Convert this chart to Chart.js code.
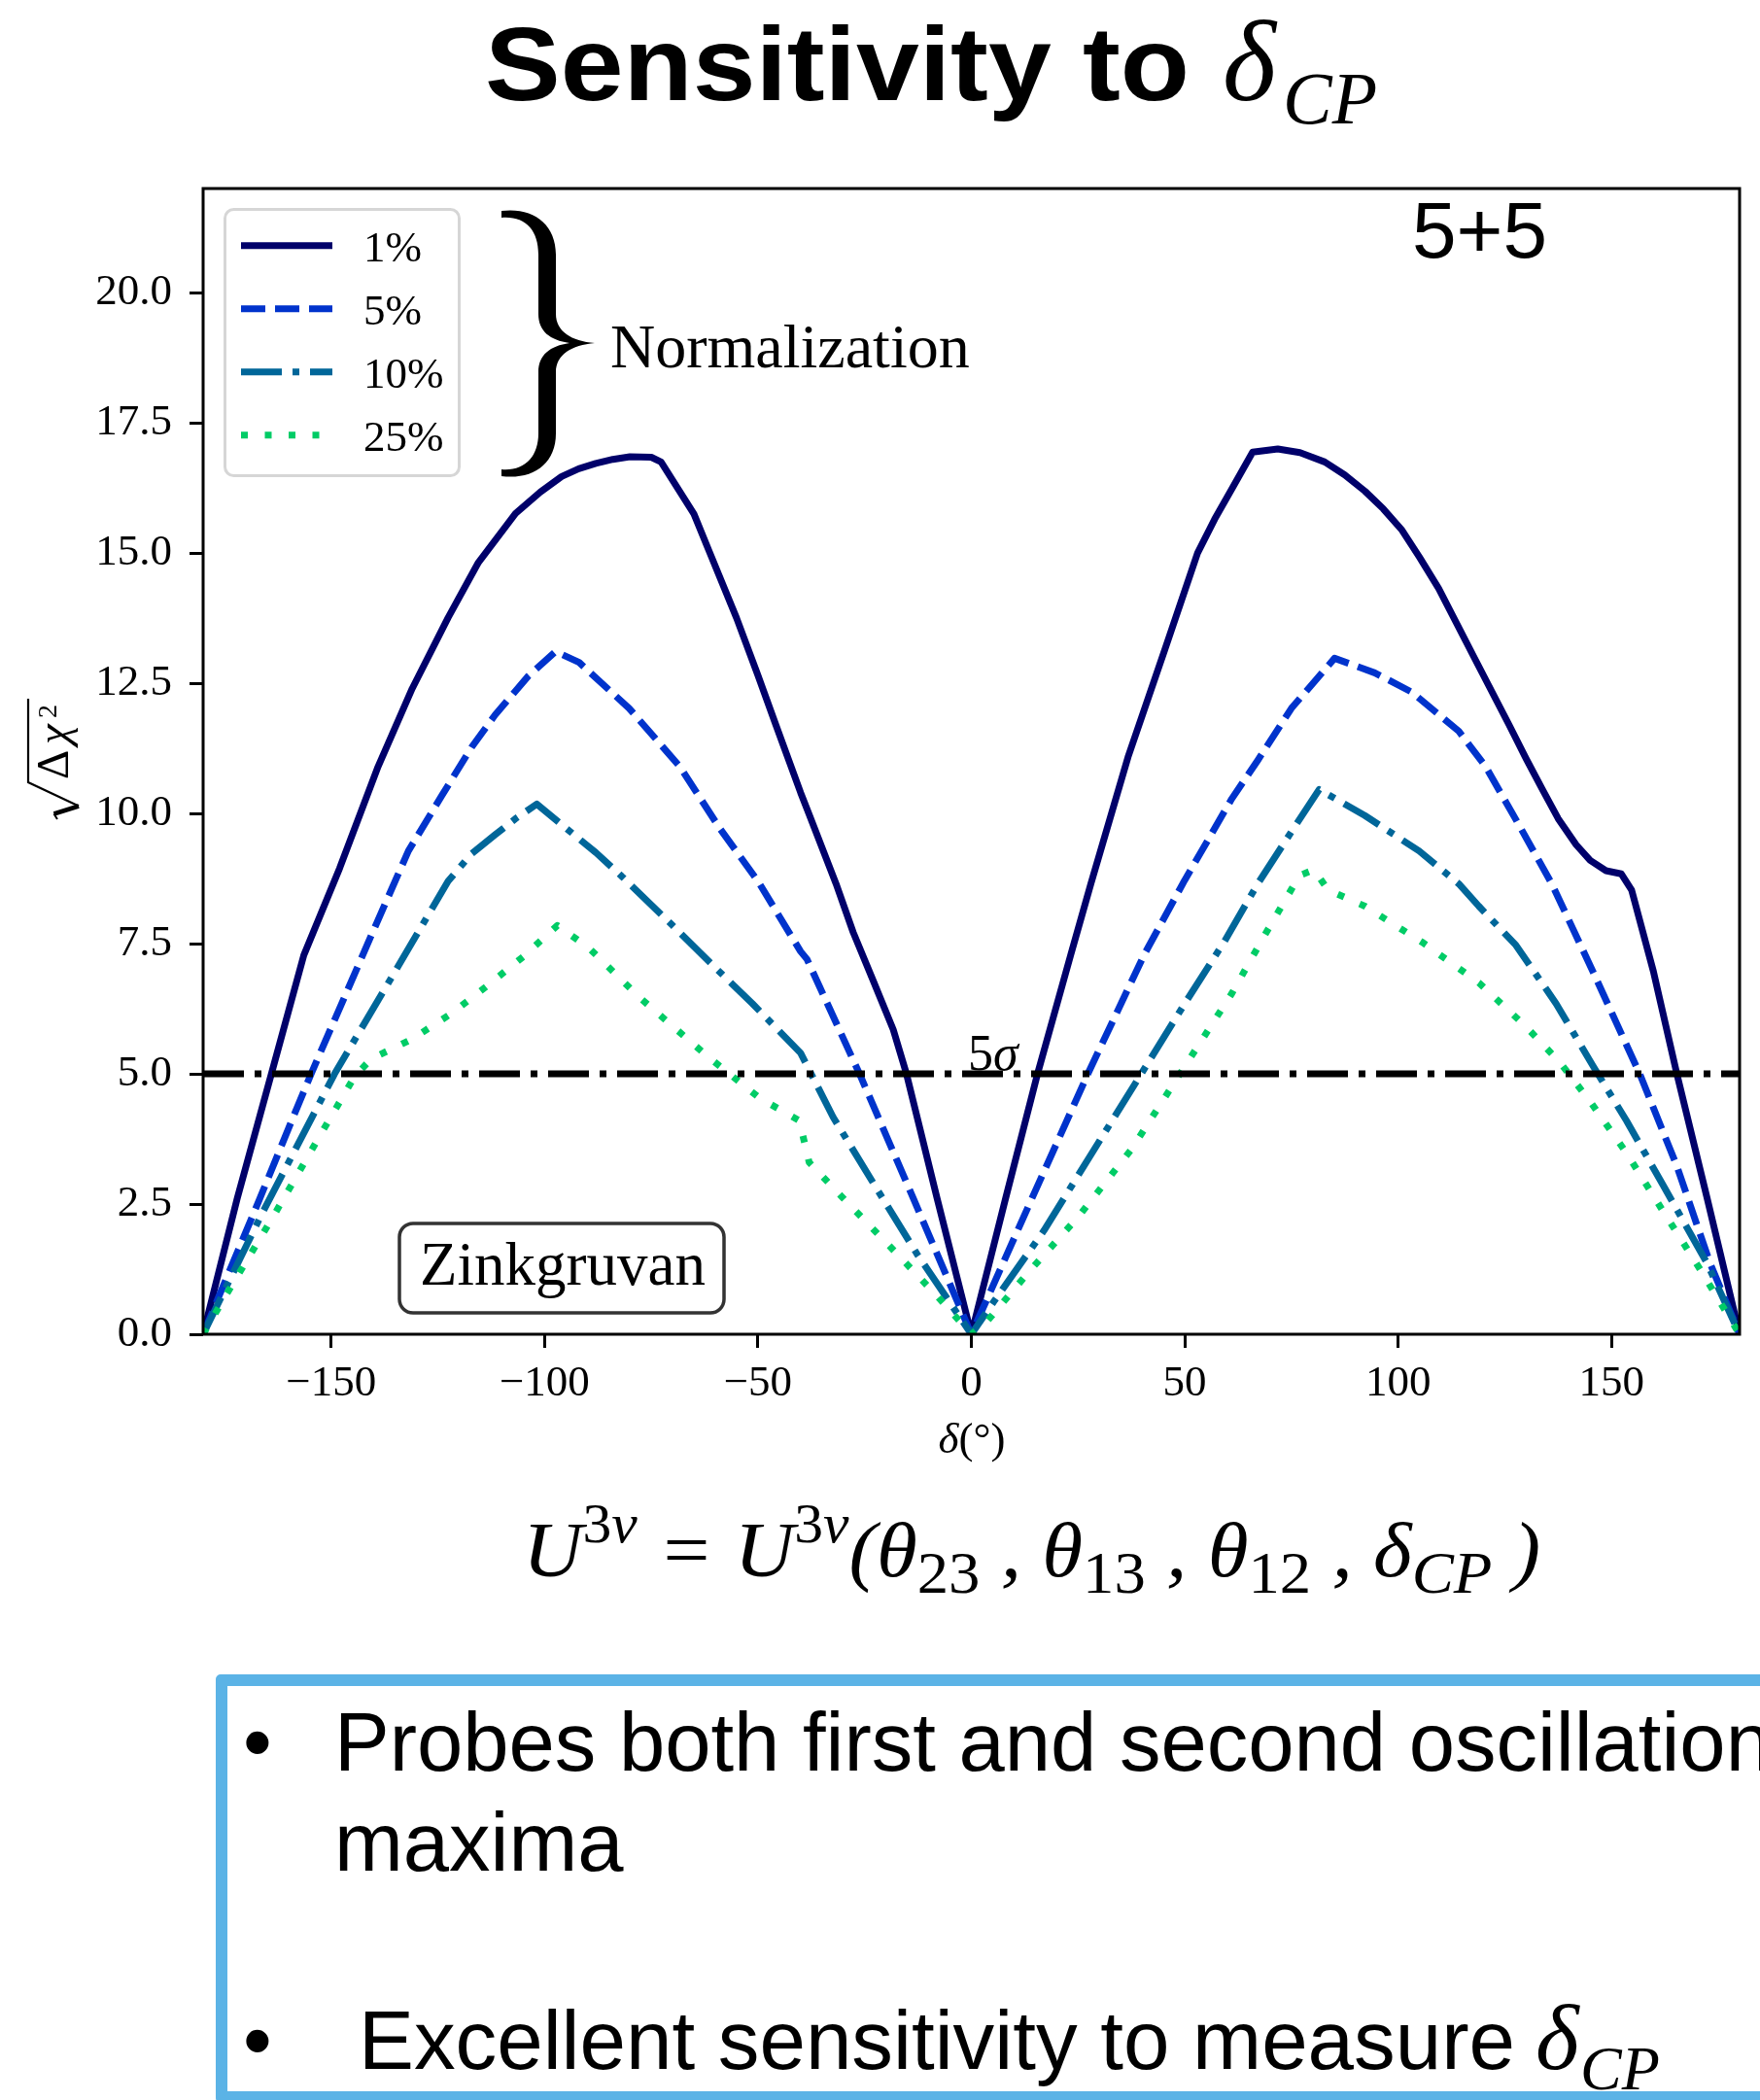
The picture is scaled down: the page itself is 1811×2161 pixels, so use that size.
<!DOCTYPE html>
<html><head><meta charset="utf-8">
<script src="https://cdn.jsdelivr.net/npm/chart.js@4.4.1/dist/chart.umd.min.js"></script>
<style>
html,body{margin:0;padding:0;background:#fff;}
body{width:1811px;height:2161px;overflow:hidden;position:relative;}
#wrap{position:absolute;left:0;top:0;width:1811px;height:1560px;}
.t{position:absolute;white-space:nowrap;color:#000;line-height:1;transform-origin:0 0;}
.sans{font-family:"Liberation Sans",Arial,sans-serif;}
.serif{font-family:"Liberation Serif","Times New Roman",serif;}
.sup{font-size:0.7em;vertical-align:0.62em;}
.sub{font-size:0.76em;vertical-align:-0.28em;}
.up{font-style:normal;}
#box{position:absolute;left:222px;top:1723px;width:1700px;height:441px;border:12px solid #5bb3e6;box-sizing:border-box;border-radius:5px;}
</style></head><body>
<div id="wrap"><canvas id="c" width="1811" height="1560"></canvas></div>
<div id="title1" class="t sans" style="font-weight:bold;font-size:108px">Sensitivity to</div>
<div id="title2" class="t serif" style="font-style:italic;font-size:118px">δ</div>
<div id="title3" class="t serif" style="font-style:italic;font-size:76px">CP</div>
<div id="fivefive" class="t sans" style="font-size:82px">5+5</div>
<div id="formula" class="t serif" style="font-size:80px;font-style:italic">U<span class="sup"><span class="up">3</span>ν</span> = U<span class="sup"><span class="up">3</span>ν</span>(θ<span class="sub up">23</span> , θ<span class="sub up">13</span> , θ<span class="sub up">12</span> , δ<span class="sub">CP</span> )</div>
<div id="box"></div>
<div id="b1" class="t sans" style="font-size:85px">•</div>
<div id="l1" class="t sans" style="font-size:85px">Probes both first and second oscillation</div>
<div id="l2" class="t sans" style="font-size:85px">maxima</div>
<div id="b2" class="t sans" style="font-size:85px">•</div>
<div id="l3" class="t sans" style="font-size:85px">Excellent sensitivity to measure</div>
<div id="l3d" class="t serif" style="font-style:italic;font-size:96px">δ</div>
<div id="l3s" class="t serif" style="font-style:italic;font-size:64px">CP</div>
<script>
// ---- data ----
const seriesLabels = ['1%', '5%', '10%', '25%'];
const xTicks = [-150, -100, -50, 0, 50, 100, 150];
const yTicks = [0, 2.5, 5, 7.5, 10, 12.5, 15, 17.5, 20];

const delta1 = [-180,-172,-164,-156.4,-148,-139,-131,-122.6,-115.5,-106.8,-101,-96,-92,-88,-84,-80,-75,-72.7,-65,-61.5,-55,-50,-45.8,-40,-37.9,-31.7,-27.7,-23,-18.3,-15.2,-8,0,8,15.5,23.3,28,36.7,45.3,53,57,61.5,65.9,71.8,77,82.8,87.5,92.2,96.5,100.9,105,109.5,118.1,126,130,133.8,137.5,141.7,145,148.7,152.3,154.7,159.8,165.3,172.4,180];
const chi1 = [0,2.61,5.0,7.28,8.95,10.9,12.4,13.76,14.82,15.76,16.17,16.47,16.62,16.72,16.8,16.85,16.84,16.75,15.75,15.05,13.75,12.65,11.7,10.4,9.96,8.65,7.72,6.79,5.85,5.0,2.6,0,2.6,5.0,7.29,8.65,11.08,13.14,15.0,15.65,16.3,16.94,17.0,16.93,16.75,16.5,16.19,15.85,15.44,14.92,14.32,12.95,11.7,11.05,10.46,9.9,9.4,9.1,8.9,8.84,8.53,6.97,5.0,2.61,0];

const delta5 = [-180,-174,-167,-160,-154.7,-147,-140,-131.9,-124.1,-117.1,-111.6,-103.8,-97.4,-91.9,-80.2,-68.3,-59,-50,-40,-38.5,-26.2,-13.6,0,13.6,27.3,40.5,50,61,67.1,75,85.1,94.5,103.2,114.2,120.5,128.3,136,145.6,156.6,165.3,173.1,180];
const chi5 = [0,1.18,2.55,3.95,5.0,6.45,7.77,9.28,10.34,11.27,11.89,12.64,13.11,12.9,12.02,10.9,9.72,8.7,7.35,7.2,5.0,2.61,0,2.5,5.0,7.29,8.72,10.28,11.02,12.02,12.98,12.7,12.33,11.58,10.9,9.78,8.65,6.97,5.0,3.23,1.36,0];

const delta10 = [-180,-166.3,-149.2,-135,-122.6,-117.2,-111.6,-106.8,-101.8,-95.9,-88,-82,-70,-59.5,-51.3,-40,-32.4,-22.2,-12.8,0,5.2,17,28.8,39.8,50,59.2,67.1,75,81.5,92.2,104.9,114.2,118.9,127.6,137,145.6,153.5,162.1,172.4,180];
const chi10 = [0,2.3,5.0,6.97,8.7,9.22,9.59,9.9,10.18,9.78,9.25,8.8,7.85,7.0,6.35,5.4,4.17,2.8,1.55,0,0.62,1.99,3.55,5.0,6.35,7.53,8.65,9.65,10.46,9.96,9.28,8.65,8.22,7.47,6.35,5.16,4.1,2.86,1.36,0];

const delta25 = [-180,-174.3,-163.3,-152.3,-144.5,-140.6,-131.2,-122,-113.9,-105,-97,-89.5,-77.8,-62,-49.7,-40.3,-38,-30,-19,-8.1,0,3.6,13.9,24.9,37.5,49.2,61,68.7,76.9,80.3,83.6,92.2,105.6,118.9,129.9,137.8,144.9,153.5,162.1,170.8,180];
const chi25 = [0,0.8,2.3,3.86,4.95,5.29,5.66,6.15,6.66,7.25,7.85,7.41,6.47,5.35,4.54,4.1,3.3,2.61,1.68,0.74,0,0.24,1.24,2.24,3.55,5.04,6.54,7.66,8.81,8.92,8.53,8.22,7.53,6.75,5.91,5.23,4.48,3.48,2.36,1.24,0];

const sigmaX = [-180, 180];
const sigmaY = [5, 5];

// ---- styles ----
const styles = [
  {color:'#00006a', dash:[], width:7},
  {color:'#0033cc', dash:[25,10], width:7},
  {color:'#006699', dash:[42,11,7,11], width:7},
  {color:'#00cc66', dash:[7,17.5], width:7}
];
const pts = (xs, ys) => xs.map((x, i) => ({x, y: ys[i]}));
const seriesData = [pts(delta1, chi1), pts(delta5, chi5), pts(delta10, chi10), pts(delta25, chi25)];

const datasets = seriesData.map((d, i) => ({
  label: seriesLabels[i], data: d, showLine: true, pointRadius: 0, fill: false, tension: 0,
  borderColor: styles[i].color, borderWidth: styles[i].width, borderDash: styles[i].dash,
  borderJoinStyle: 'round', borderCapStyle: 'butt', order: 5 - i
}));
datasets.push({label:'5σ', data: pts(sigmaX, sigmaY), showLine:true, pointRadius:0, fill:false,
  borderColor:'#000', borderWidth:7, borderDash:[42,11,7,11], borderCapStyle:'butt', order:0});

function rr(c, x, y, w, h, r) {
  c.beginPath();
  c.moveTo(x + r, y); c.lineTo(x + w - r, y); c.arcTo(x + w, y, x + w, y + r, r);
  c.lineTo(x + w, y + h - r); c.arcTo(x + w, y + h, x + w - r, y + h, r);
  c.lineTo(x + r, y + h); c.arcTo(x, y + h, x, y + h - r, r);
  c.lineTo(x, y + r); c.arcTo(x, y, x + r, y, r); c.closePath();
}

const SERIF = '"Liberation Serif", "Times New Roman", serif';
const annot = {
  id: 'annot',
  afterDatasetsDraw(chart) {
    const c = chart.ctx, a = chart.chartArea;
    c.save();
    c.setLineDash([]);
    c.lineWidth = 3; c.strokeStyle = '#000';
    c.strokeRect(a.left, a.top, a.right - a.left, a.bottom - a.top);

    // legend
    rr(c, 231.5, 215.5, 241, 274, 9);
    c.fillStyle = 'rgba(255,255,255,0.85)'; c.fill();
    c.strokeStyle = '#d6d6d6'; c.lineWidth = 3; c.stroke();
    chart.data.datasets.slice(0, 4).forEach((ds, i) => {
      const y = 252.7 + i * 65;
      c.beginPath(); c.setLineDash(ds.borderDash); c.lineDashOffset = 0; c.lineCap = 'butt';
      c.strokeStyle = ds.borderColor; c.lineWidth = ds.borderWidth;
      c.moveTo(248, y); c.lineTo(342, y); c.stroke();
      c.setLineDash([]);
      c.fillStyle = '#000'; c.font = '45px ' + SERIF; c.textAlign = 'left'; c.textBaseline = 'alphabetic';
      c.fillText(ds.label, 374, y + 16);
    });

    // brace
    c.beginPath();
    c.moveTo(516, 217);
    c.bezierCurveTo(548, 213, 572, 230, 572, 262);
    c.lineTo(572, 323);
    c.bezierCurveTo(572, 341, 588, 351, 612, 353);
    c.bezierCurveTo(588, 355, 572, 365, 572, 383);
    c.lineTo(572, 446);
    c.bezierCurveTo(572, 478, 548, 494, 516, 490);
    c.lineTo(516, 483);
    c.bezierCurveTo(540, 485, 554, 470, 554, 446);
    c.lineTo(554, 383);
    c.bezierCurveTo(554, 365, 566, 356, 586, 353);
    c.bezierCurveTo(566, 350, 554, 341, 554, 323);
    c.lineTo(554, 262);
    c.bezierCurveTo(554, 236, 540, 222, 516, 224);
    c.closePath(); c.fillStyle = '#000'; c.fill();

    c.font = '64px ' + SERIF; c.fillText('Normalization', 628, 378);

    // 5 sigma label
    c.font = '52px ' + SERIF; c.fillText('5', 996, 1101);
    const w5 = c.measureText('5').width;
    c.font = 'italic 52px ' + SERIF; c.fillText('σ', 996 + w5, 1101);

    // Zinkgruvan box
    rr(c, 411, 1259, 334, 92, 14);
    c.fillStyle = '#fff'; c.fill();
    c.strokeStyle = '#333'; c.lineWidth = 3.5; c.stroke();
    c.fillStyle = '#000'; c.font = '63px ' + SERIF; c.fillText('Zinkgruvan', 432, 1322);
    c.restore();
  },
  afterDraw(chart) {
    const c = chart.ctx;
    c.save();
    c.fillStyle = '#000'; c.textBaseline = 'alphabetic'; c.textAlign = 'left';
    // x title
    c.font = 'italic 45px ' + SERIF; const wd = c.measureText('δ').width;
    c.font = '45px ' + SERIF; const wp = c.measureText('(°)').width;
    const x0 = 1000 - (wd + wp) / 2;
    c.font = 'italic 45px ' + SERIF; c.fillText('δ', x0, 1495);
    c.font = '45px ' + SERIF; c.fillText('(°)', x0 + wd, 1495);
    // y title (rotated sqrt(Delta chi^2))
    c.translate(70, 843); c.rotate(-Math.PI / 2);
    c.strokeStyle = '#000'; c.lineCap = 'butt'; c.lineJoin = 'miter';
    c.beginPath(); c.lineWidth = 2; c.moveTo(0, -11); c.lineTo(5.5, -14.5); c.stroke();
    c.beginPath(); c.lineWidth = 4.5; c.moveTo(5.5, -14.5); c.lineTo(13.5, 11); c.stroke();
    c.beginPath(); c.lineWidth = 2.2; c.moveTo(13.5, 11); c.lineTo(38, -41); c.lineTo(124, -41); c.stroke();
    c.font = '47px ' + SERIF; c.fillText('Δ', 41, 0);
    c.font = 'italic 47px ' + SERIF; c.fillText('χ', 77, 0);
    c.font = '28px ' + SERIF; c.fillText('2', 104, -12);
    c.restore();
  }
};

const tickFont = {family: 'Liberation Serif', size: 45};
new Chart(document.getElementById('c').getContext('2d'), {
  type: 'scatter',
  data: {datasets},
  options: {
    responsive: false, animation: false, devicePixelRatio: 1,
    layout: {padding: {left: 0, top: 194, right: 21, bottom: 1560 - 1373 - 130}},
    plugins: {legend: {display: false}, tooltip: {enabled: false}},
    scales: {
      x: {
        type: 'linear', min: -180, max: 180,
        afterBuildTicks: s => { s.ticks = xTicks.map(v => ({value: v})); },
        afterFit: s => { s.height = 130; },
        ticks: {font: tickFont, color: '#000', padding: 10, maxRotation: 0,
          callback: v => (v < 0 ? '\u2212' + Math.abs(v) : String(v))},
        grid: {display: true, drawOnChartArea: false, drawTicks: true, tickLength: 14, tickWidth: 3, tickColor: '#000'},
        border: {display: false}
      },
      y: {
        type: 'linear', min: 0, max: 22,
        afterBuildTicks: s => { s.ticks = yTicks.map(v => ({value: v})); },
        afterFit: s => { s.width = 209; },
        ticks: {font: tickFont, color: '#000', padding: 18, callback: v => Number(v).toFixed(1)},
        grid: {display: true, drawOnChartArea: false, drawTicks: true, tickLength: 14, tickWidth: 3, tickColor: '#000'},
        border: {display: false}
      }
    }
  },
  plugins: [annot]
});

// ---- place HTML texts by baseline ----
function place(id, x, base, width) {
  const el = document.getElementById(id);
  el.style.left = x + 'px'; el.style.top = '0px';
  const m = document.createElement('span');
  m.style.cssText = 'display:inline-block;width:0;height:0;vertical-align:baseline';
  el.appendChild(m);
  const b = m.getBoundingClientRect().top - el.getBoundingClientRect().top;
  el.style.top = (base - b) + 'px';
  if (width) {
    const w = el.getBoundingClientRect().width;
    el.style.transform = 'scaleX(' + (width / w) + ')';
  }
}
place('title1', 499, 103, 725);
place('title2', 1258, 103);
place('title3', 1320, 127);
place('fivefive', 1453, 265);
place('formula', 538, 1622, 1047);
place('b1', 250, 1822);
place('l1', 344, 1822);
place('l2', 344, 1925);
place('b2', 250, 2129);
place('l3', 369, 2129, 1190);
place('l3d', 1580, 2129);
place('l3s', 1626, 2150);
</script>
</body></html>
